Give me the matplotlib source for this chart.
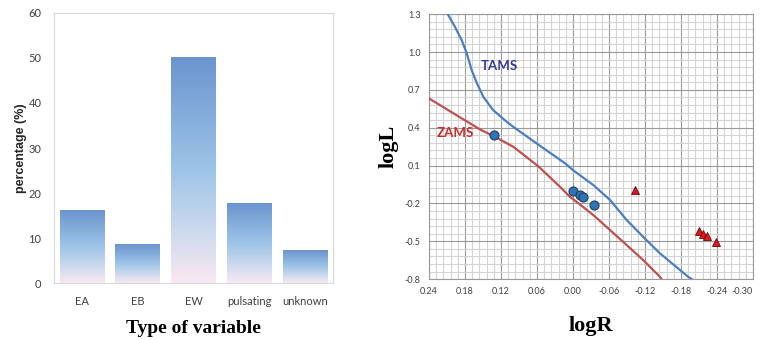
import numpy as np
import matplotlib
matplotlib.use('Agg')
import matplotlib.pyplot as plt
from matplotlib.colors import LinearSegmentedColormap

# left panel: share of each variable type
categories = ['EA', 'EB', 'EW', 'pulsating', 'unknown']
percentages = [16.0, 8.6, 50.0, 17.6, 7.2]

# right panel: ZAMS / TAMS tracks and the stars
tams_logR = [0.2078, 0.1967, 0.1855, 0.177, 0.1688, 0.160, 0.1495, 0.133,
             0.1105, 0.0995, 0.0605, 0.013, 0.0, -0.034, -0.062, -0.0895,
             -0.117, -0.145, -0.192, -0.198]
tams_logL = [1.292, 1.199, 1.094, 0.989, 0.856, 0.751, 0.645, 0.539,
             0.447, 0.407, 0.275, 0.117, 0.064, -0.055, -0.174, -0.332,
             -0.465, -0.596, -0.782, -0.80]
zams_logR = [0.24, 0.155, 0.133, 0.0995, 0.058, 0.0217, 0.005,
             -0.006, -0.034, -0.062, -0.0895, -0.117, -0.145, -0.147]
zams_logL = [0.632, 0.386, 0.336, 0.249, 0.095, -0.068, -0.148,
             -0.187, -0.293, -0.412, -0.530, -0.649, -0.782, -0.795]

circ_logR = [0.132, 0.0, -0.0117, -0.017, -0.0355]
circ_logL = [0.339, -0.100, -0.134, -0.152, -0.211]
tri_logR = [-0.103, -0.2095, -0.217, -0.223, -0.238]
tri_logL = [-0.097, -0.420, -0.443, -0.459, -0.504]

tick_color = '#404040'
tick_font = 'Lato'

fig = plt.figure(figsize=(7.61, 3.4), dpi=100)

# ---- bar chart
ax1 = fig.add_axes([0.071, 0.1676, 0.3666, 0.7942])
bars = ax1.bar(range(len(categories)), percentages, width=0.8, color='none')
cmap = LinearSegmentedColormap.from_list(
    'bars', [(0.0, '#f9e8f1'), (0.25, '#c9d8ee'), (0.5, '#9ec4e7'), (1.0, '#6a95cf')])
grad = np.linspace(0, 1, 256).reshape(-1, 1)
for b in bars:
    x0 = b.get_x()
    ax1.imshow(grad, extent=[x0, x0 + b.get_width(), 0, b.get_height()],
               origin='lower', cmap=cmap, aspect='auto', zorder=2)
ax1.set_xlim(-0.5, len(categories) - 0.5)
ax1.set_ylim(0, 60)
ax1.set_yticks(range(0, 61, 10))
ax1.set_xticks(range(len(categories)))
ax1.set_xticklabels(categories)
ax1.tick_params(length=0, labelsize=8, colors=tick_color, pad=9)
for lab in ax1.get_xticklabels() + ax1.get_yticklabels():
    lab.set_family(tick_font)
for s in ax1.spines.values():
    s.set_color('#d9d9d9')
ax1.set_ylabel('percentage (%)', family='Liberation Sans', weight='bold',
               fontsize=9, color='#262626', labelpad=1)
ax1.set_xlabel('Type of variable', family='Liberation Serif', weight='bold',
               fontsize=14, labelpad=10)

# ---- HR-type diagram
ax2 = fig.add_axes([0.5637, 0.179, 0.4258, 0.7794])
ax2.set_xlim(0.24, -0.30)
ax2.set_ylim(-0.8, 1.3)
xt = np.round(np.arange(0.24, -0.301, -0.06), 2)
yt = np.round(np.arange(-0.8, 1.301, 0.3), 1)
ax2.set_xticks(xt)
ax2.set_xticklabels(['%.2f' % v if abs(v) > 1e-9 else '0.00' for v in xt])
ax2.set_yticks(yt)
ax2.set_yticklabels(['%.1f' % v for v in yt])
ax2.set_xticks(np.arange(0.24, -0.301, -0.012), minor=True)
ax2.set_yticks(np.arange(-0.8, 1.301, 0.06), minor=True)
ax2.grid(which='minor', color='#d4d4d4', lw=0.8)
ax2.grid(which='major', color='#9a9a9a', lw=0.8)
ax2.set_axisbelow(True)
ax2.tick_params(which='both', length=0, labelsize=6.5, colors=tick_color, pad=6)
for lab in ax2.get_xticklabels() + ax2.get_yticklabels():
    lab.set_family(tick_font)
# last label sits at the figure edge, keep it inside
ax2.get_xticklabels()[-1].set_horizontalalignment('right')
for s in ax2.spines.values():
    s.set_color('#9a9a9a')

ax2.plot(tams_logR, tams_logL, color='#4a7fc4', lw=1.6, zorder=3,
         solid_joinstyle='round')
ax2.plot(zams_logR, zams_logL, color='#c0504d', lw=1.6, zorder=3,
         solid_joinstyle='round')
ax2.plot(circ_logR, circ_logL, 'o', ms=6.5, mfc='#2e75b6', mec='#1f3e66',
         mew=0.8, zorder=4)
ax2.plot(tri_logR, tri_logL, '^', ms=6, mfc='#e8141b', mec='#5a0d0d',
         mew=0.6, zorder=4)

ax2.text(0.153, 0.888, 'TAMS', color='#35389a', fontsize=9.5, weight='bold',
         family='Lato', ha='left', va='center')
ax2.text(0.227, 0.357, 'ZAMS', color='#cc2a2a', fontsize=9.5, weight='bold',
         family='Lato', ha='left', va='center')

ax2.set_xlabel('logR', family='Liberation Serif', weight='bold', fontsize=16,
               labelpad=14)
ax2.set_ylabel('logL', family='Liberation Serif', weight='bold', fontsize=16,
               labelpad=4)

fig.savefig('out.png', dpi=100)
